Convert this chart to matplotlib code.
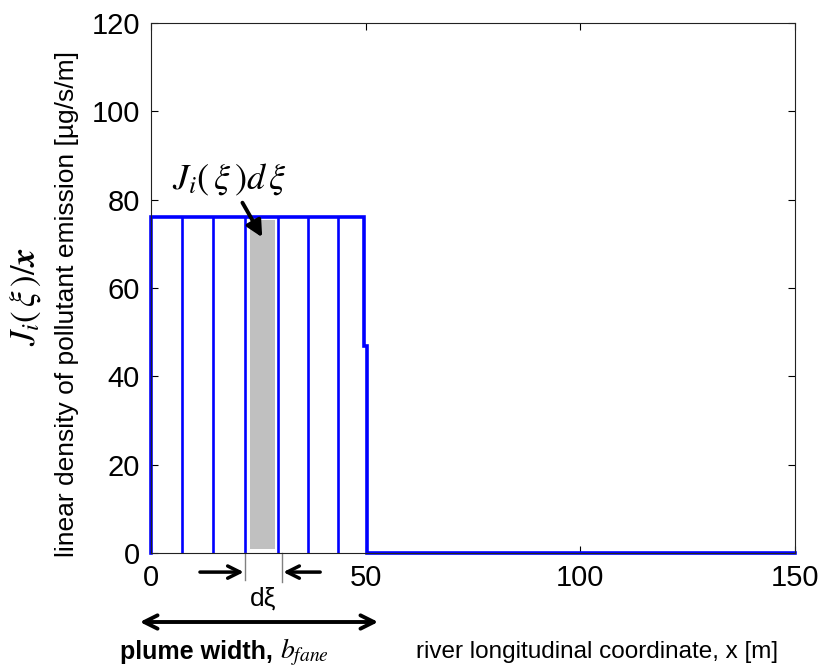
import numpy as np
import matplotlib.pyplot as plt

# emission profile (step at plume edge)
step_x = [0, 0, 49.5, 49.5, 50.2, 50.2, 150]
step_y = [0, 76, 76, 47, 47, 0, 0]
# interior strips
strip_x = [7.15, 14.5, 21.9, 29.6, 36.6, 43.6]
strip_top = 76
# highlighted element d xi
elem_x0, elem_x1 = 23.1, 28.9
elem_y0, elem_y1 = 1.0, 75.4

xticks = [0, 50, 100, 150]
yticks = [0, 20, 40, 60, 80, 100, 120]

plt.rcParams['mathtext.fontset'] = 'stix'
plt.rcParams['font.family'] = ['Liberation Sans', 'DejaVu Sans']

fig = plt.figure(figsize=(8.23, 6.68), dpi=100)
ax = fig.add_axes([0.1835, 0.172, 0.7825, 0.7934])

ax.fill_between([elem_x0, elem_x1], elem_y0, elem_y1, color='#c0c0c0', lw=0)
ax.vlines(strip_x, 0, strip_top, color='#0000ff', lw=1.9)
ax.plot(step_x, step_y, color='#0000ff', lw=2.6, solid_joinstyle='miter', clip_on=False)

ax.set_xlim(0, 150)
ax.set_ylim(0, 120)
ax.set_xticks(xticks)
ax.set_yticks(yticks)
ax.tick_params(direction='in', top=True, right=True, length=5, width=0.8,
               labelsize=21, pad=8)
for s in ax.spines.values():
    s.set_linewidth(0.8)
    s.set_color('#222222')

# y label, two lines
fig.text(0.031, 0.557, r'$J_i(\,\xi\,)/\mathbfit{x}$', rotation=90, ha='center', va='center',
         fontsize=25)
fig.text(0.081, 0.545, 'linear density of pollutant emission [\u00b5g/s/m]', rotation=90,
         ha='center', va='center', fontsize=19)

# element label
ax.annotate(r'$J_i(\,\xi\,)d\,\xi$', xy=(25.9, 71.5), xytext=(18.2, 84.6),
            ha='center', va='center', fontsize=26,
            arrowprops=dict(arrowstyle='-|>', color='black', lw=2.8,
                            mutation_scale=24, shrinkA=2, shrinkB=0))

# d xi markers below the axis
ax.plot([21.9, 21.9], [0, -6], color='#808080', lw=1, clip_on=False)
ax.plot([30.5, 30.5], [0, -6.5], color='#808080', lw=1, clip_on=False)
ax.annotate('', xy=(21.6, -4.3), xytext=(11.4, -4.3), annotation_clip=False,
            arrowprops=dict(arrowstyle='->', color='black', lw=2.5, mutation_scale=22,
                            shrinkA=0, shrinkB=0))
ax.annotate('', xy=(30.8, -4.3), xytext=(39.4, -4.3), annotation_clip=False,
            arrowprops=dict(arrowstyle='->', color='black', lw=2.5, mutation_scale=22,
                            shrinkA=0, shrinkB=0))
ax.text(26.1, -10.4, 'd\u03be', ha='center', va='center', fontsize=19, clip_on=False)

# plume width arrow
ax.annotate('', xy=(52.9, -15.6), xytext=(-2.6, -15.6), annotation_clip=False,
            arrowprops=dict(arrowstyle='<->', color='black', lw=2.8, mutation_scale=24,
                            shrinkA=0, shrinkB=0))
ax.text(-7.2, -22.4, 'plume width,', ha='left', va='center', fontsize=18,
        fontweight='bold', clip_on=False)
ax.text(30.0, -22.4, r'$b_{fane}$', ha='left', va='center', fontsize=20, clip_on=False)
ax.text(103.9, -22.4, 'river longitudinal coordinate, x [m]', ha='center', va='center',
        fontsize=17.5, clip_on=False)

fig.savefig('out.png', dpi=100)
